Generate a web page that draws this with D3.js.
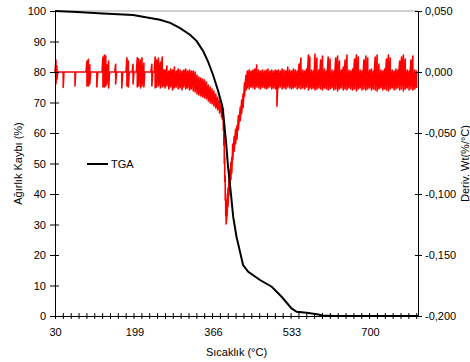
<!DOCTYPE html>
<html>
<head>
<meta charset="utf-8">
<script src="https://cdn.jsdelivr.net/npm/d3@7"></script>
<style>
  body { margin: 0; background: #fff; }
  text { font-family: "Liberation Sans", Arial, sans-serif; fill: #000; }
</style>
</head>
<body>
<div id="chart"></div>
<script>
// TGA curve (weight %)
const tgaTemp   = [30, 77, 132, 196, 232, 253, 275, 296, 317, 331, 345, 355, 366, 377, 385, 388, 394, 398, 404, 409, 416, 424, 430, 441, 466, 491, 512, 533, 544, 565, 587, 600, 625, 802];
const tgaWeight = [100, 99.7, 99.2, 98.7, 97.7, 97.1, 96.1, 94.4, 92.2, 90.2, 86.9, 83.6, 79.1, 73.8, 69.3, 66.0, 56.7, 48.9, 40.3, 32.5, 26.0, 20.7, 16.7, 14.5, 11.8, 9.6, 6.3, 2.5, 1.4, 1.1, 0.6, 0.2, 0, 0];

// DTG readings: [temperature, low, high] of the noisy red trace
const dtgRows = [
  [30, 0, 0], [32, -0.0098, 0.0098], [34, -0.0060, 0.0049], [36, 0, 0], [46, 0, 0], [47.5, -0.0127, 0], [49, 0, 0],
  [71, 0, 0], [72.5, -0.0115, 0], [74, 0, 0], [96, 0, 0], [98, -0.0115, 0.0090], [101, -0.0115, 0.0104],
  [104, -0.0098, 0.0060], [106, 0, 0], [117, 0, 0], [119, -0.0123, 0], [121, 0, 0], [130, 0, 0],
  [132, -0.0123, 0.0123], [135, -0.0123, 0.0139], [138, -0.0115, 0.0131], [140, -0.0098, 0.0060], [142, 0, 0],
  [144, -0.0131, 0.0090], [146, 0, 0], [157, 0, 0], [159, -0.0098, 0.0063], [161, 0, 0], [170, 0, 0],
  [172, -0.0131, 0], [174, 0, 0], [181, 0, 0], [183, -0.0115, 0.0117], [186, -0.0123, 0.0090], [188, 0, 0],
  [194, 0, 0], [196, -0.0098, 0.0063], [198, 0, 0], [203, 0, 0], [205, -0.0123, 0.0117], [208, -0.0115, 0.0109],
  [210, 0, 0], [212, -0.0131, 0.0098], [215, -0.0115, 0.0117], [219, -0.0123, 0.0074], [221, 0, 0], [234, 0, 0],
  [236, -0.0115, 0.0063], [238, 0, 0], [241, 0, 0], [243, -0.0131, 0.0123], [246, -0.0123, 0.0098], [248, 0, 0],
  [250, -0.0115, 0.0115], [254, -0.0131, 0.0082], [256, 0, 0], [258, -0.0123, 0.0123], [261, -0.0115, 0.0016],
  [264, -0.0131, 0.0016], [268, -0.0115, 0.0049], [272, -0.0139, 0.0008], [276, -0.0123, 0.0025], [280, -0.0147, 0.0016],
  [284, -0.0131, 0.0041], [288, -0.0123, 0.0008], [292, -0.0139, 0.0025], [296, -0.0131, 0.0016], [300, -0.0147, 0.0008],
  [304, -0.0123, 0.0016], [308, -0.0139, 0.0025], [312, -0.0131, 0.0008], [316, -0.0147, 0.0016], [320, -0.0139, 0.0008],
  [324, -0.0156, 0.0008], [328, -0.0164, 0.0000], [332, -0.0180, -0.0025], [336, -0.0189, -0.0041], [340, -0.0197, -0.0049],
  [344, -0.0205, -0.0057], [348, -0.0213, -0.0066], [352, -0.0221, -0.0082], [356, -0.0238, -0.0107], [360, -0.0254, -0.0123],
  [364, -0.0262, -0.0139], [368, -0.0279, -0.0156], [372, -0.0295, -0.0180], [376, -0.0311, -0.0205], [380, -0.0336, -0.0230],
  [384, -0.0369, -0.0262], [386, -0.0390, -0.0270], [388, -0.0480, -0.0300], [389, -0.0600, -0.0400], [390, -0.0750, -0.0500],
  [391, -0.0900, -0.0700], [392, -0.1050, -0.0850], [393, -0.1180, -0.1000], [394, -0.1246, -0.1100], [395, -0.1220, -0.1080],
  [396, -0.1180, -0.1050], [398, -0.1100, -0.0950], [400, -0.1010, -0.0880], [402, -0.0940, -0.0800], [404, -0.0880, -0.0740],
  [406, -0.0830, -0.0700], [408, -0.0720, -0.0590], [411, -0.0650, -0.0530], [414, -0.0590, -0.0470], [417, -0.0550, -0.0440],
  [420, -0.0470, -0.0360], [424, -0.0400, -0.0290], [427, -0.0340, -0.0230], [430, -0.0290, -0.0180], [433, -0.0200, -0.0090],
  [436, -0.0150, -0.0030], [439, -0.0130, 0.0008], [443, -0.0139, 0.0016], [447, -0.0123, 0.0008], [451, -0.0131, 0.0016],
  [455, -0.0139, 0.0025], [459, -0.0123, 0.0057], [463, -0.0131, 0.0016], [467, -0.0139, 0.0008], [471, -0.0123, 0.0016],
  [475, -0.0131, 0.0008], [479, -0.0139, 0.0016], [483, -0.0131, 0.0025], [487, -0.0123, 0.0008], [491, -0.0139, 0.0016],
  [495, -0.0131, 0.0008], [499, -0.0139, 0.0016], [502, -0.0280, 0.0008], [505, -0.0131, 0.0016], [509, -0.0123, 0.0008],
  [513, -0.0139, 0.0025], [517, -0.0131, 0.0016], [521, -0.0139, 0.0008], [525, -0.0123, 0.0041], [529, -0.0131, 0.0016],
  [533, -0.0139, 0.0008], [537, -0.0131, 0.0025], [541, -0.0123, 0.0016], [545, -0.0139, 0.0008], [549, -0.0131, 0.0066],
  [553, -0.0139, 0.0115], [557, -0.0131, 0.0016], [561, -0.0139, 0.0008], [565, -0.0123, 0.0025], [569, -0.0147, 0.0139],
  [572, -0.0131, 0.0123], [576, -0.0139, 0.0016], [580, -0.0131, 0.0008], [583, -0.0147, 0.0148], [587, -0.0139, 0.0115],
  [591, -0.0131, 0.0016], [595, -0.0139, 0.0098], [599, -0.0147, 0.0131], [603, -0.0131, 0.0025], [607, -0.0139, 0.0008],
  [611, -0.0147, 0.0123], [615, -0.0139, 0.0107], [619, -0.0131, 0.0016], [623, -0.0147, 0.0008], [627, -0.0139, 0.0115],
  [631, -0.0156, 0.0131], [635, -0.0139, 0.0090], [639, -0.0131, 0.0016], [643, -0.0147, 0.0041], [647, -0.0139, 0.0098],
  [651, -0.0147, 0.0139], [655, -0.0131, 0.0016], [659, -0.0139, 0.0008], [663, -0.0147, 0.0025], [667, -0.0139, 0.0107],
  [671, -0.0156, 0.0139], [675, -0.0139, 0.0123], [679, -0.0131, 0.0016], [683, -0.0147, 0.0008], [687, -0.0139, 0.0098],
  [691, -0.0147, 0.0131], [695, -0.0139, 0.0115], [699, -0.0131, 0.0016], [703, -0.0147, 0.0025], [707, -0.0139, 0.0008],
  [711, -0.0147, 0.0123], [715, -0.0156, 0.0139], [719, -0.0139, 0.0066], [723, -0.0131, 0.0016], [727, -0.0147, 0.0008],
  [731, -0.0139, 0.0025], [735, -0.0147, 0.0107], [739, -0.0156, 0.0139], [743, -0.0139, 0.0115], [747, -0.0131, 0.0016],
  [751, -0.0147, 0.0008], [755, -0.0139, 0.0025], [759, -0.0131, 0.0016], [763, -0.0147, 0.0090], [767, -0.0139, 0.0123],
  [771, -0.0156, 0.0139], [775, -0.0139, 0.0107], [779, -0.0131, 0.0016], [783, -0.0147, 0.0008], [787, -0.0139, 0.0098],
  [791, -0.0147, 0.0131], [795, -0.0139, 0.0016], [799, -0.0131, 0.0008]
];

const xLabels = [30, 199, 366, 533, 700];
const leftTicks = [0, 10, 20, 30, 40, 50, 60, 70, 80, 90, 100];
const rightTicks = [-0.2, -0.15, -0.1, -0.05, 0, 0.05];

// layout
const W = 470, H = 362;
const margin = {left: 55, right: 418, top: 11, bottom: 316};

const svg = d3.select("#chart").append("svg")
  .attr("width", W).attr("height", H)
  .style("background", "#fff");

const x = d3.scaleLinear().domain([30, 802]).range([margin.left, margin.right]);
const yL = d3.scaleLinear().domain([0, 100]).range([margin.bottom, margin.top]);
const yR = d3.scaleLinear().domain([-0.2, 0.05]).range([margin.bottom, margin.top]);

const fmt = d3.formatLocale({decimal: ",", thousands: ".", grouping: [3], currency: ["", ""], minus: "-"}).format(".3f");

// top border (grey)
svg.append("line")
  .attr("x1", margin.left).attr("x2", margin.right).attr("y1", margin.top).attr("y2", margin.top)
  .attr("stroke", "#a6a6a6").attr("stroke-width", 1);

// DTG trace
const dtgPts = [];
dtgRows.forEach(r => {
  if (r[1] === r[2]) dtgPts.push([r[0], r[1]]);
  else { dtgPts.push([r[0], r[2]]); dtgPts.push([r[0], r[1]]); }
});
svg.append("path")
  .datum(dtgPts)
  .attr("fill", "none")
  .attr("stroke", "#ff0000")
  .attr("stroke-width", 1.6)
  .attr("stroke-linejoin", "round")
  .attr("d", d3.line().x(d => x(d[0])).y(d => yR(d[1])));

// TGA
svg.append("path")
  .datum(tgaTemp.map((t, i) => [t, tgaWeight[i]]))
  .attr("fill", "none")
  .attr("stroke", "#000")
  .attr("stroke-width", 2)
  .attr("d", d3.line().x(d => x(d[0])).y(d => yL(d[1])));

// left axis
const gL = svg.append("g")
  .attr("transform", `translate(${margin.left},0)`)
  .call(d3.axisLeft(yL).tickValues(leftTicks).tickSize(5).tickPadding(4));
gL.selectAll(".tick line").attr("x2", 4).attr("x1", -5);

// right axis
const gR = svg.append("g")
  .attr("transform", `translate(${margin.right},0)`)
  .call(d3.axisRight(yR).tickValues(rightTicks).tickFormat(fmt).tickSize(4).tickPadding(3));
gR.selectAll(".tick line").attr("x1", -3);

// bottom axis: minor crossing ticks
const minor = d3.range(30, 803, 16.7);
const gB = svg.append("g")
  .attr("transform", `translate(0,${margin.bottom})`)
  .call(d3.axisBottom(x).tickValues(minor).tickFormat("").tickSize(3).tickSizeOuter(0));
gB.selectAll(".tick line").attr("y1", -3);

svg.append("g")
  .attr("transform", `translate(0,${margin.bottom})`)
  .call(d3.axisBottom(x).tickValues(xLabels).tickSize(0).tickPadding(12))
  .call(g => g.select(".domain").remove());

svg.selectAll(".domain").attr("stroke", "#000");
svg.selectAll(".tick line").attr("stroke", "#000");
svg.selectAll(".tick text")
  .style("font-family", '"Liberation Sans", Arial, sans-serif')
  .style("font-size", "11px")
  .attr("fill", "#000");

// axis titles
const midY = (margin.top + margin.bottom) / 2;
svg.append("text")
  .attr("transform", `translate(22,${midY}) rotate(-90)`)
  .attr("text-anchor", "middle")
  .style("font-size", "11px")
  .text("Ağırlık Kaybı (%)");

svg.append("text")
  .attr("transform", `translate(469,${midY}) rotate(-90)`)
  .attr("text-anchor", "middle")
  .style("font-size", "11px")
  .text("Deriv. Wt(%/°C)");

svg.append("text")
  .attr("x", (margin.left + margin.right) / 2).attr("y", 356)
  .attr("text-anchor", "middle")
  .style("font-size", "11px")
  .text("Sıcaklık (°C)");

// legend
svg.append("line")
  .attr("x1", 87).attr("x2", 108).attr("y1", 164).attr("y2", 164)
  .attr("stroke", "#000").attr("stroke-width", 2);
svg.append("text")
  .attr("x", 111).attr("y", 168)
  .style("font-size", "11px")
  .text("TGA");
</script>
</body>
</html>
